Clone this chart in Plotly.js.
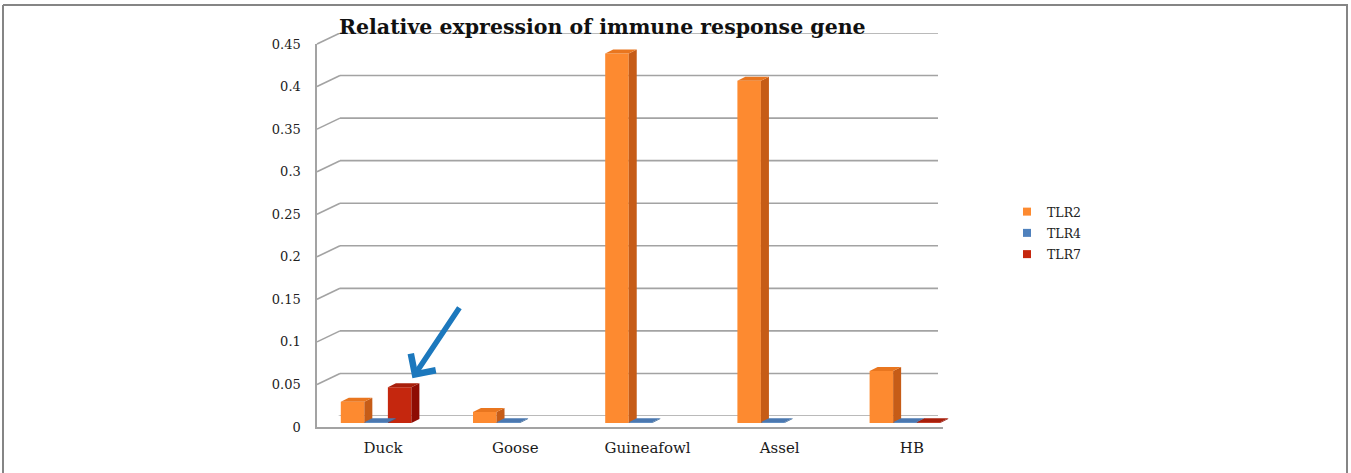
<!DOCTYPE html>
<html>
<head>
<meta charset="utf-8">
<script src="https://cdn.plot.ly/plotly-3.0.1.min.js"></script>
<style>
  html, body { margin: 0; padding: 0; background: #ffffff; }
  #chart { width: 1351px; height: 473px; }
</style>
</head>
<body>
<div id="chart"></div>
<script>
// ---- data ----
const categories = ['Duck', 'Goose', 'Guineafowl', 'Assel', 'HB'];
const seriesNames = ['TLR2', 'TLR4', 'TLR7'];
const tlr2 = [0.025, 0.013, 0.434, 0.402, 0.061];
const tlr4 = [0.001, 0.001, 0.001, 0.001, 0.001];
const tlr7 = [0.042, 0, 0, 0, 0.001];
const yTickVals = [0, 0.05, 0.1, 0.15, 0.2, 0.25, 0.3, 0.35, 0.4, 0.45];
const yTickText = ['0', '0.05', '0.1', '0.15', '0.2', '0.25', '0.3', '0.35', '0.4', '0.45'];
const titleText = 'Relative expression of immune response gene';

// ---- styling ----
const W = 1351, H = 473;
const px = x => x / W;          // pixel -> paper (x)
const py = y => 1 - y / H;      // pixel -> paper (y)
const serif = 'DejaVu Serif, Liberation Serif, serif';
const gridColor = '#a3a3a3';
const faceColors = {
  TLR2: { front: '#fd8a30', side: '#c65c17', top: '#e9761f' },
  TLR4: { front: '#4f81bd', side: '#34608f', top: '#4b78b0' },
  TLR7: { front: '#c5270e', side: '#8e0c03', top: '#a81f0b' }
};
const seriesValues = [tlr2, tlr4, tlr7];
const idx = categories.map((_, i) => i);

// plot geometry (pixels)
const yMax = 0.45;
const barTop = 40, barBottom = 423;      // mid-depth plane where bars stand
const backTop = 33, backBottom = 416;    // back wall
const frontTop = 44, frontBottom = 427;  // front plane with the value labels
const barLeft = 310, barRight = 971;
const pxPerUnit = (barBottom - barTop) / yMax;
const pxPerCat = (barRight - barLeft) / categories.length;
const bargap = 0.466;
const barW = (1 - bargap) / seriesNames.length;
const depthX = 8 / pxPerCat;     // bar depth, x direction (data units)
const depthY = 4 / pxPerUnit;    // bar depth, y direction (data units)

// ---- traces ----
const traces = [];
// placeholder point outside the back-wall range so that subplot is built
traces.push({
  type: 'scatter', mode: 'markers', x: [5], y: [5], xaxis: 'x', yaxis: 'y',
  showlegend: false, hoverinfo: 'skip', marker: { size: 1, color: 'rgba(0,0,0,0)' }
});
// legend entries (their points sit outside the front-plane range)
seriesNames.forEach(name => {
  traces.push({
    type: 'scatter', mode: 'markers', name: name, x: [5], y: [5],
    xaxis: 'x2', yaxis: 'y2', legendgroup: name, hoverinfo: 'skip',
    marker: { symbol: 'square', size: 8, color: faceColors[name].front }
  });
});
seriesNames.forEach((name, s) => {
  traces.push({
    type: 'bar', name: name, x: idx, y: seriesValues[s],
    xaxis: 'x3', yaxis: 'y3', showlegend: false, hoverinfo: 'x+y+name',
    marker: { color: faceColors[name].front, line: { width: 0 } }
  });
});

// ---- shapes: back-wall grid, wall connectors, 3-D faces, frame ----
const shapes = [];
const wallOffset = (frontBottom - backBottom) / pxPerUnit;
yTickVals.forEach(v => {
  // horizontal gridline on the back wall
  shapes.push({
    type: 'line', xref: 'x', yref: 'y', layer: 'below',
    x0: 0, x1: 1, y0: v, y1: v,
    line: { color: gridColor, width: 1.6 }
  });
  // slanted link from the front value axis to the back wall
  shapes.push({
    type: 'line', xref: 'paper', yref: 'y', layer: 'below',
    x0: px(317), y0: v - wallOffset, x1: px(340), y1: v,
    line: { color: gridColor, width: 1.6 }
  });
});
seriesNames.forEach((name, s) => {
  seriesValues[s].forEach((v, k) => {
    if (!(v > 0)) return;
    const c = k + (s - 1) * barW;
    const l = c - barW / 2, r = c + barW / 2;
    shapes.push({
      type: 'path', xref: 'x3', yref: 'y3', layer: 'above', line: { width: 0 },
      fillcolor: faceColors[name].side,
      path: `M${r},0 L${r + depthX},${depthY} L${r + depthX},${v + depthY} L${r},${v} Z`
    });
    shapes.push({
      type: 'path', xref: 'x3', yref: 'y3', layer: 'above', line: { width: 0 },
      fillcolor: faceColors[name].top,
      path: `M${l},${v} L${l + depthX},${v + depthY} L${r + depthX},${v + depthY} L${r},${v} Z`
    });
  });
});
// outer frame
const frame = { color: '#858585', width: 2 };
shapes.push({ type: 'line', xref: 'paper', yref: 'paper', x0: px(3), x1: px(1348), y0: py(5), y1: py(5), line: frame });
shapes.push({ type: 'line', xref: 'paper', yref: 'paper', x0: px(3), x1: px(3), y0: py(5), y1: 0, line: frame });
shapes.push({ type: 'line', xref: 'paper', yref: 'paper', x0: px(1347), x1: px(1347), y0: py(5), y1: 0, line: frame });

// ---- layout ----
const layout = {
  width: W, height: H,
  margin: { l: 0, r: 0, t: 0, b: 0, pad: 0 },
  paper_bgcolor: '#ffffff', plot_bgcolor: 'rgba(0,0,0,0)',
  barmode: 'group', bargap: bargap, bargroupgap: 0,
  font: { family: serif, color: '#222222' },
  title: {
    text: titleText, xref: 'paper', yref: 'paper',
    x: px(339), xanchor: 'left', y: py(27), yanchor: 'middle',
    font: { family: serif, size: 20.5, weight: 'bold', color: '#111111' }
  },
  // back wall (gridlines are drawn as shapes on these axes)
  xaxis: { domain: [px(340), px(938)], range: [0, 1], visible: false, anchor: 'y', fixedrange: true },
  yaxis: {
    domain: [py(backBottom), py(backTop)], range: [0, yMax], anchor: 'x',
    visible: false, showgrid: false, zeroline: false, fixedrange: true
  },
  // front plane: value labels and floor edge
  xaxis2: {
    domain: [px(317), px(943)], range: [0, 1], anchor: 'y2',
    showline: true, linecolor: gridColor, linewidth: 1.6,
    showticklabels: false, ticks: '', showgrid: false, zeroline: false, fixedrange: true
  },
  yaxis2: {
    domain: [py(frontBottom), py(frontTop)], range: [0, yMax], anchor: 'x2',
    showline: true, linecolor: gridColor, linewidth: 1.6,
    tickvals: yTickVals, ticktext: yTickText,
    ticks: 'outside', ticklen: 12, tickcolor: 'rgba(0,0,0,0)',
    tickfont: { family: serif, size: 13, color: '#222222' },
    showgrid: false, zeroline: false, fixedrange: true
  },
  // bars and category labels
  xaxis3: {
    domain: [px(barLeft), px(barRight)], range: [-0.5, categories.length - 0.5], anchor: 'y3',
    tickvals: idx, ticktext: categories, ticklabelshift: 7,
    ticks: 'outside', ticklen: 11, tickcolor: 'rgba(0,0,0,0)',
    tickfont: { family: serif, size: 15, color: '#1a1a1a' },
    showline: false, showgrid: false, zeroline: false, fixedrange: true
  },
  yaxis3: {
    domain: [py(barBottom), py(barTop)], range: [0, yMax], anchor: 'x3',
    visible: false, showgrid: false, zeroline: false, fixedrange: true
  },
  legend: {
    x: px(1007), y: py(197), xanchor: 'left', yanchor: 'top',
    bgcolor: 'rgba(0,0,0,0)', traceorder: 'grouped', tracegroupgap: 2,
    font: { family: serif, size: 12.5, color: '#222222' }
  },
  shapes: shapes,
  annotations: [{
    xref: 'x3', yref: 'y3',
    x: 0 + barW + barW / 2, y: tlr7[0],
    text: '', showarrow: true, arrowhead: 4, arrowsize: 1.05, arrowwidth: 5.5,
    arrowcolor: '#1c78bd', ax: 48, ay: -72, axref: 'pixel', ayref: 'pixel',
    xshift: 1, yshift: 9, standoff: 0
  }]
};

Plotly.newPlot('chart', traces, layout, { displayModeBar: false, staticPlot: true });
</script>
</body>
</html>
